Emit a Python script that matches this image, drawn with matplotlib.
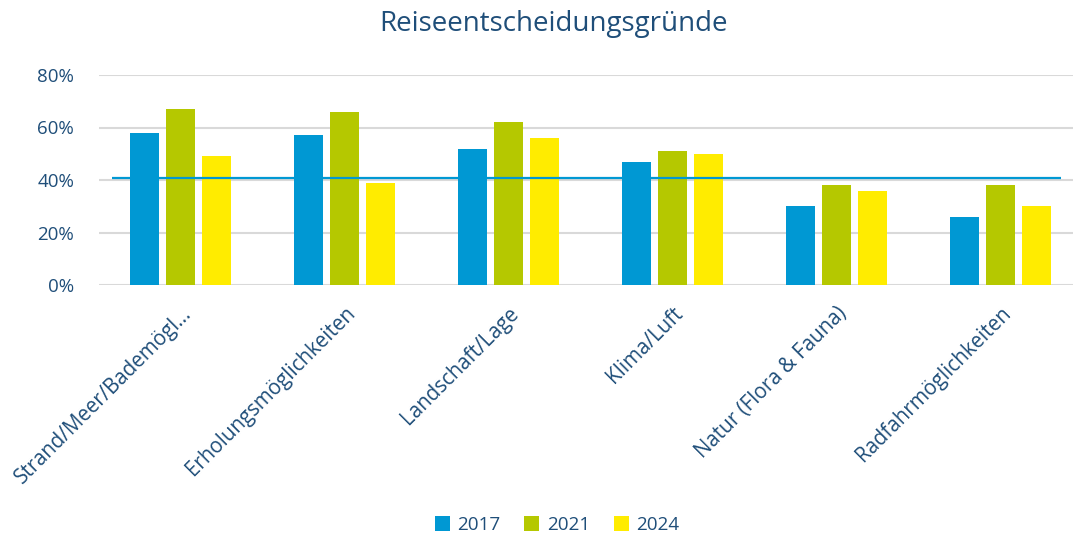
import matplotlib
matplotlib.use("Agg")
import matplotlib.pyplot as plt
import numpy as np
from matplotlib.ticker import PercentFormatter

plt.rcParams['font.family'] = ['Open Sans', 'DejaVu Sans']

# Data (percent)
categories = ['Strand/Meer/Bademögl…', 'Erholungsmöglichkeiten', 'Landschaft/Lage',
              'Klima/Luft', 'Natur (Flora & Fauna)', 'Radfahrmöglichkeiten']
years = ['2017', '2021', '2024']
v2017 = [58, 57, 52, 47, 30, 26]
v2021 = [67, 66, 62, 51, 38, 38]
v2024 = [49, 39, 56, 50, 36, 30]
average = 40.6

colors = ['#0098d3', '#b5c800', '#ffec00']
text_color = '#1f4e79'

fig = plt.figure(figsize=(10.73, 5.36), dpi=100)
ax = fig.add_axes([99 / 1073, 1 - 285 / 536, 983 / 1073, 210 / 536])

x = np.arange(len(categories))
w = 0.177
for i, (vals, c, lab) in enumerate(zip([v2017, v2021, v2024], colors, years)):
    ax.bar(x + (i - 1) * 0.22, vals, width=w, color=c, label=lab, zorder=3)

ax.hlines(average, -0.42, 5.37, color='#0098d3', linewidth=1.6, zorder=4)

ax.set_xlim(-0.5, len(categories) - 0.5)
ax.set_ylim(0, 80)
ax.set_yticks([0, 20, 40, 60, 80])
ax.yaxis.set_major_formatter(PercentFormatter(decimals=0))
ax.grid(axis='y', color='#d9d9d9', linewidth=1.5, zorder=0)
for s in ax.spines.values():
    s.set_visible(False)
ax.tick_params(axis='both', length=0, colors=text_color, labelsize=13.5)
ax.tick_params(axis='y', pad=18)
ax.set_xticks(x)
ax.set_xticklabels(categories, rotation=45, ha='right', va='top', rotation_mode='anchor',
                   fontsize=14.8)
for t in ax.get_xticklabels():
    t.set_color(text_color)
ax.tick_params(axis='x', pad=13)

fig.text(553 / 1073, 1 - 24 / 536, 'Reiseentscheidungsgründe', ha='center', va='center',
         fontsize=20, color=text_color)

fig.legend(loc='center', bbox_to_anchor=(557 / 1073, 1 - 525 / 536), ncol=3, frameon=False,
           fontsize=13.6, labelcolor=text_color, handlelength=0.8, handleheight=0.8,
           handletextpad=0.4, columnspacing=1.25)

fig.savefig('out.png', dpi=100)
